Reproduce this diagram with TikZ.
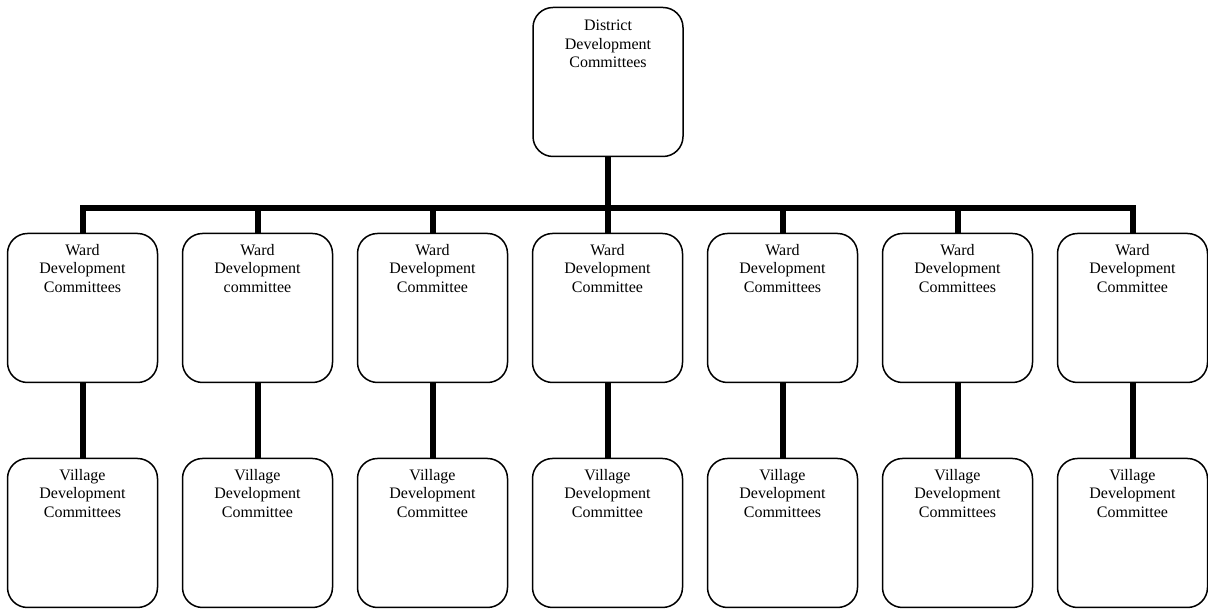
\documentclass[tikz,border=0pt]{standalone}
\usepackage{fontspec}
\newfontfamily\timesfont{Liberation Serif}
\usepackage{tikz}

\tikzset{
  committee/.style={draw, line width=1.5pt, rounded corners=20pt,
    minimum width=150pt, minimum height=149pt, inner sep=0pt},
  caption/.style={anchor=north, yshift=-8pt, align=center,
    font=\timesfont\fontsize{16}{18.4}\selectfont},
  link/.style={line width=6pt}
}

\begin{document}
\begin{tikzpicture}[x=1pt, y=1pt]
    \useasboundingbox (0,0) rectangle (1208,609);
    % district level
    \node[committee, label={[caption, yshift=-2pt]north:{District\\Development\\Committees}}] (dist) at (608,527) {};
    \coordinate (bus) at (608,400.5);
    % ward level
    \node[committee, label={[caption]north:{Ward\\Development\\Committees}}] (ward1) at (82.5,301) {};
    \node[committee, label={[caption]north:{Ward\\Development\\committee}}] (ward2) at (257.5,301) {};
    \node[committee, label={[caption]north:{Ward\\Development\\Committee}}] (ward3) at (432.5,301) {};
    \node[committee, label={[caption]north:{Ward\\Development\\Committee}}] (ward4) at (607.5,301) {};
    \node[committee, label={[caption]north:{Ward\\Development\\Committees}}] (ward5) at (782.5,301) {};
    \node[committee, label={[caption]north:{Ward\\Development\\Committees}}] (ward6) at (957.5,301) {};
    \node[committee, label={[caption]north:{Ward\\Development\\Committee}}] (ward7) at (1132.5,301) {};
    % village level
    \node[committee, label={[caption]north:{Village\\Development\\Committees}}] (vill1) at (82.5,76) {};
    \node[committee, label={[caption]north:{Village\\Development\\Committee}}] (vill2) at (257.5,76) {};
    \node[committee, label={[caption]north:{Village\\Development\\Committee}}] (vill3) at (432.5,76) {};
    \node[committee, label={[caption]north:{Village\\Development\\Committee}}] (vill4) at (607.5,76) {};
    \node[committee, label={[caption]north:{Village\\Development\\Committees}}] (vill5) at (782.5,76) {};
    \node[committee, label={[caption]north:{Village\\Development\\Committees}}] (vill6) at (957.5,76) {};
    \node[committee, label={[caption]north:{Village\\Development\\Committee}}] (vill7) at (1132.5,76) {};
    % connectors
    \draw[link] (dist.south) -- (bus);
    \draw[link] (ward1.north) |- (bus);
    \draw[link] (ward2.north) |- (bus);
    \draw[link] (ward3.north) |- (bus);
    \draw[link] (ward4.north) |- (bus);
    \draw[link] (ward5.north) |- (bus);
    \draw[link] (ward6.north) |- (bus);
    \draw[link] (ward7.north) |- (bus);
    \draw[link] (ward1) -- (vill1);
    \draw[link] (ward2) -- (vill2);
    \draw[link] (ward3) -- (vill3);
    \draw[link] (ward4) -- (vill4);
    \draw[link] (ward5) -- (vill5);
    \draw[link] (ward6) -- (vill6);
    \draw[link] (ward7) -- (vill7);
\end{tikzpicture}
\end{document}
